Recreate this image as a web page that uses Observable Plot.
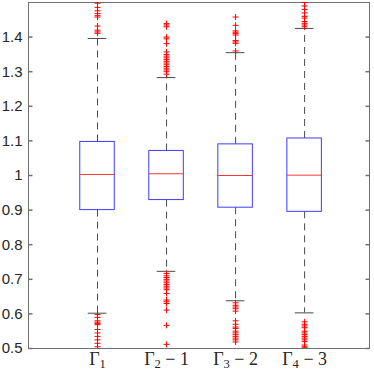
<!DOCTYPE html>
<html>
<head>
<meta charset="utf-8">
<script src="https://cdn.jsdelivr.net/npm/d3@7"></script>
<script src="https://cdn.jsdelivr.net/npm/@observablehq/plot@0.6"></script>
<style>
  html, body { margin: 0; padding: 0; background: #fff; }
  #chart svg { display: block; background: #fff; }
</style>
</head>
<body>
<div id="chart"></div>
<script>
// ---- data ----
const positions   = [1, 2, 3, 4];
const tickBase    = ["Γ", "Γ", "Γ", "Γ"];
const tickSub     = ["1", "2", "3", "4"];
const tickRest    = ["", " − 1", " − 2", " − 3"];
const q1          = [0.900, 0.929, 0.907, 0.895];
const medians     = [1.003, 1.005, 1.000, 1.001];
const q3          = [1.097, 1.071, 1.090, 1.107];
const whiskerLow  = [0.602, 0.723, 0.638, 0.603];
const whiskerHigh = [1.396, 1.283, 1.355, 1.425];
const outliers1 = [1.411, 1.415, 1.42, 1.432, 1.458, 1.462, 1.468, 1.476, 1.486, 1.498,
                   0.598, 0.59, 0.58, 0.576, 0.572, 0.569, 0.555, 0.545, 0.535, 0.525, 0.515, 0.505];
const outliers2 = [1.439, 1.435, 1.43, 1.40, 1.395, 1.381, 1.357, 1.35, 1.345, 1.34, 1.335, 1.33,
                   1.325, 1.32, 1.315, 1.31, 1.305, 1.30, 1.293,
                   0.717, 0.71, 0.705, 0.70, 0.695, 0.69, 0.685, 0.68, 0.675, 0.67, 0.659,
                   0.64, 0.635, 0.63, 0.611, 0.567, 0.512];
const outliers3 = [1.458, 1.434, 1.418, 1.414, 1.41, 1.406, 1.39, 1.386, 1.382, 1.36,
                   0.632, 0.625, 0.62, 0.615, 0.608, 0.58, 0.57, 0.562, 0.558, 0.55, 0.545,
                   0.54, 0.535, 0.53, 0.525, 0.519];
const outliers4 = [1.43, 1.435, 1.44, 1.445, 1.455, 1.46, 1.47, 1.48, 1.49, 1.5,
                   0.577, 0.57, 0.565, 0.56, 0.55, 0.545, 0.54, 0.535, 0.53, 0.525, 0.52,
                   0.51, 0.505, 0.502];
const yTicks      = [0.5, 0.6, 0.7, 0.8, 0.9, 1.0, 1.1, 1.2, 1.3, 1.4];
const yTickLabels = ["0.5", "0.6", "0.7", "0.8", "0.9", "1", "1.1", "1.2", "1.3", "1.4"];

// ---- styling ----
const boxWidth = 0.5, capWidth = 0.27;
const axisColor = "#707070";
const boxColor = "#3c3cff", medColor = "#ff3535", outColor = "#ff0000", whiskColor = "#4a4a4a";

const boxes = positions.map((p, i) => ({
  pos: p, q1: q1[i], med: medians[i], q3: q3[i], lo: whiskerLow[i], hi: whiskerHigh[i]
}));
const outlierRows = [outliers1, outliers2, outliers3, outliers4]
  .flatMap((arr, i) => arr.map(v => ({pos: positions[i], v})));

const plusSymbol = {draw(ctx, size) { const r = Math.sqrt(size / Math.PI);
  ctx.moveTo(-r, 0); ctx.lineTo(r, 0); ctx.moveTo(0, -r); ctx.lineTo(0, r); }};
const tickInRight = {draw(ctx, size) { const r = Math.sqrt(size / Math.PI);
  ctx.moveTo(0, 0); ctx.lineTo(r, 0); }};
const tickInLeft = {draw(ctx, size) { const r = Math.sqrt(size / Math.PI);
  ctx.moveTo(0, 0); ctx.lineTo(-r, 0); }};

const fullLabel = positions.map((p, i) => tickBase[i] + tickSub[i] + tickRest[i]);

const svg = Plot.plot({
  width: 374, height: 371,
  marginLeft: 28, marginRight: 5, marginTop: 2, marginBottom: 23,
  x: {type: "linear", domain: [0, 4.94]},
  y: {domain: [0.5, 1.5]},
  marks: [
    Plot.frame({stroke: axisColor}),
    Plot.axisY({ticks: yTicks, tickFormat: d => yTickLabels[yTicks.indexOf(d)], tickSize: 0, tickPadding: 6,
      fontSize: 15, fontFamily: "Liberation Sans, Arial, sans-serif", fill: "#262626", label: null}),
    Plot.dot(yTicks, {y: d => d, frameAnchor: "left", symbol: tickInRight, r: 4, stroke: axisColor, fill: "none"}),
    Plot.dot(yTicks, {y: d => d, frameAnchor: "right", symbol: tickInLeft, r: 4, stroke: axisColor, fill: "none"}),
    Plot.axisX({ticks: positions, tickFormat: d => fullLabel[positions.indexOf(d)], tickSize: 0, tickPadding: 4,
      fontSize: 18, fontFamily: "Liberation Serif, Times New Roman, serif", fill: "#262626", label: null}),
    // whiskers
    Plot.ruleX(boxes, {x: "pos", y1: "q3", y2: "hi", stroke: whiskColor, strokeDasharray: "7,5"}),
    Plot.ruleX(boxes, {x: "pos", y1: "q1", y2: "lo", stroke: whiskColor, strokeDasharray: "7,5"}),
    Plot.ruleY(boxes, {y: "hi", x1: d => d.pos - capWidth / 2, x2: d => d.pos + capWidth / 2, stroke: whiskColor}),
    Plot.ruleY(boxes, {y: "lo", x1: d => d.pos - capWidth / 2, x2: d => d.pos + capWidth / 2, stroke: whiskColor}),
    // boxes
    Plot.rect(boxes, {x1: d => d.pos - boxWidth / 2, x2: d => d.pos + boxWidth / 2, y1: "q1", y2: "q3",
      fill: "white", stroke: boxColor, strokeWidth: 1}),
    Plot.ruleY(boxes, {y: "med", x1: d => d.pos - boxWidth / 2, x2: d => d.pos + boxWidth / 2, stroke: medColor}),
    // outliers
    Plot.dot(outlierRows, {x: "pos", y: "v", symbol: plusSymbol, r: 3, stroke: outColor, fill: "none",
      strokeWidth: 1, clip: true})
  ]
});

// rebuild x tick labels with real subscripts (labels are in tick order)
const NS = "http://www.w3.org/2000/svg";
svg.querySelectorAll('g[aria-label="x-axis tick label"] text').forEach((t, idx) => {
  t.textContent = "";
  const a = document.createElementNS(NS, "tspan"); a.textContent = tickBase[idx];
  const b = document.createElementNS(NS, "tspan"); b.textContent = tickSub[idx];
  b.setAttribute("font-size", "70%"); b.setAttribute("dy", "0.2em");
  t.appendChild(a); t.appendChild(b);
  if (tickRest[idx]) {
    const c = document.createElementNS(NS, "tspan"); c.textContent = tickRest[idx];
    c.setAttribute("dy", "-0.14em");
    t.appendChild(c);
  }
});

document.getElementById("chart").appendChild(svg);
</script>
</body>
</html>
